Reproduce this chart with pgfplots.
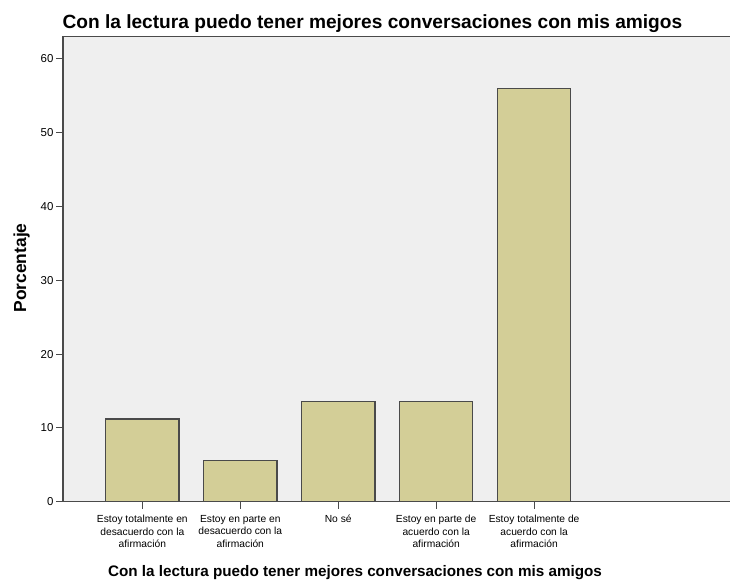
\documentclass[border=0pt]{standalone}
\usepackage{fontspec}
\setmainfont{Liberation Sans}
\usepackage{pgfplots}
\pgfplotsset{compat=1.18}
\definecolor{barfill}{HTML}{D3CE97}
\definecolor{bgfill}{HTML}{EFEFEF}
\definecolor{edgec}{HTML}{4A4A4A}
\begin{document}
\begin{tikzpicture}
\begin{axis}[
    at={(63bp,-501.7bp)}, anchor=south west,
    scale only axis, width=667bp, height=465.7bp,
    xmin=-0.81, xmax=6.0, ymin=0, ymax=63.1,
    axis x line*=bottom, axis y line*=left,
    axis line style={edgec, line width=1.2bp},
    axis background/.style={fill=bgfill},
    tick align=outside, major tick length=7bp,
    tick style={edgec, line width=1bp},
    xtick={0,1,2,3,4},
    xticklabels={{Estoy totalmente en\\desacuerdo con la\\afirmación},
                 {Estoy en parte en\\desacuerdo con la\\afirmación},
                 {No sé},
                 {Estoy en parte de\\acuerdo con la\\afirmación},
                 {Estoy totalmente de\\acuerdo con la\\afirmación}},
    xticklabel style={align=center, anchor=north, yshift=-3bp,
        font=\fontsize{10.3}{12.7}\selectfont},
    ytick={0,10,...,60},
    yticklabel style={font=\fontsize{11.5}{13}\selectfont, xshift=1bp},
    /pgf/number format/assume math mode=true,
    bar width=0.75,
]
\addplot[ybar, fill=barfill, draw=edgec, line width=1.2bp]
  coordinates {(0,11.2) (1,5.6) (2,13.6) (3,13.6) (4,56.0)};
\draw[edgec, line width=1.2bp] (rel axis cs:0,1) -- (rel axis cs:1,1);
\end{axis}
\node[anchor=base west, font=\fontsize{19.2}{22}\selectfont\bfseries] at (59bp,-28bp)
  {Con la lectura puedo tener mejores conversaciones con mis amigos};
\node[anchor=base, font=\fontsize{15.3}{18}\selectfont\bfseries] at (355bp,-576bp)
  {Con la lectura puedo tener mejores conversaciones con mis amigos};
\node[rotate=90, anchor=base, font=\fontsize{17.5}{20}\selectfont\bfseries] at (26bp,-268bp)
  {Porcentaje};
\pgfresetboundingbox
\path (0bp,0bp) rectangle (730bp,-580bp);
\end{tikzpicture}
\end{document}
